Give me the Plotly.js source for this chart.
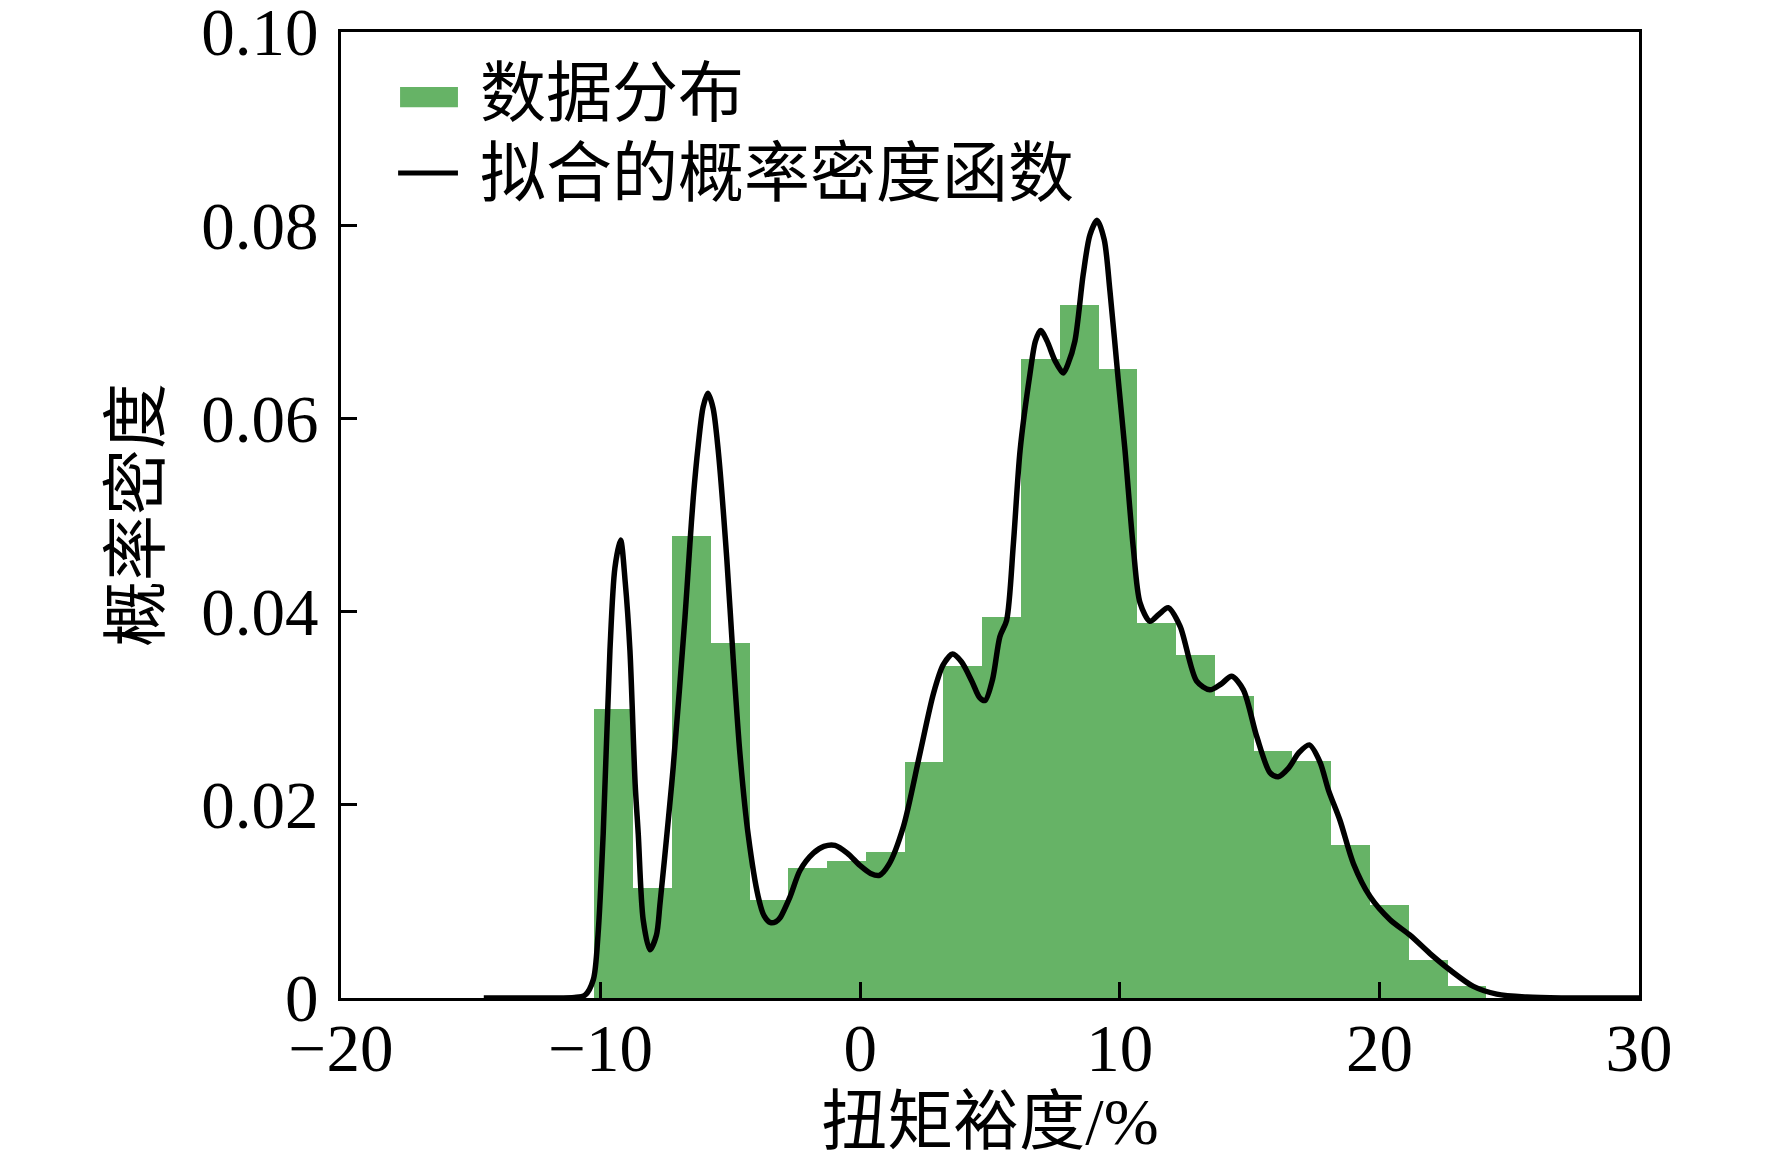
<!DOCTYPE html>
<html>
<head>
<meta charset="utf-8">
<script src="https://cdn.plot.ly/plotly-3.0.1.min.js"></script>
<style>
html,body{margin:0;padding:0;background:#fff;}
#chart{width:1772px;height:1169px;}
</style>
</head>
<body>
<div id="chart"></div>
<script>
// Histogram bin edges (%)
const binEdges = [-10.24, -8.746, -7.252, -5.758, -4.264, -2.77, -1.276, 0.218, 1.712, 3.206,
  4.70, 6.194, 7.688, 9.182, 10.676, 12.17, 13.664, 15.158, 16.652, 18.146, 19.64, 21.134, 22.628, 24.122];
// Histogram densities
const binDensity = [0.0299, 0.0114, 0.0478, 0.0368, 0.0101, 0.0135, 0.0142, 0.0151, 0.0244, 0.0344,
  0.0394, 0.0662, 0.0717, 0.0651, 0.0388, 0.0355, 0.0313, 0.0256, 0.0245, 0.0158, 0.0096, 0.0039, 0.0012];

// Fitted probability density curve
const pdfX = [-14.5, -12, -11, -10.6, -10.28, -10.1, -9.9, -9.64, -9.45, -9.23, -9.05, -8.87, -8.67, -8.55, -8.36,
  -8.1, -7.85, -7.71, -7.39, -7.2, -6.75, -6.56, -6.43, -6.24, -6.05, -5.87, -5.67, -5.47, -5.14, -4.89, -4.63, -4.31,
  -3.93, -3.7, -3.45, -3.25, -3.09, -2.7, -2.32, -1.8, -1.4, -0.97, -0.5, 0.0, 0.4, 0.74, 1.1, 1.66, 2.30, 2.82,
  3.2, 3.56, 3.9, 4.3, 4.6, 4.81, 5.1, 5.38, 5.64, 5.9, 6.16, 6.54, 6.75, 6.95, 7.2, 7.5, 7.82, 8.0, 8.27, 8.59,
  8.85, 9.13, 9.4, 9.62, 9.94, 10.2, 10.52, 10.78, 11.16, 11.5, 11.86, 12.32, 12.96, 13.47, 13.9, 14.31, 14.76,
  15.27, 15.79, 16.1, 16.5, 16.9, 17.3, 17.7, 18.04, 18.48, 19.0, 19.64, 20.41, 21.18, 21.95, 22.72, 23.62,
  24.52, 25.67, 27, 28.5, 30];
const pdfY = [0, 0, 0.00005, 0.0003, 0.0019, 0.0065, 0.017, 0.036, 0.0445, 0.0474, 0.043, 0.036, 0.0222, 0.017, 0.0081,
  0.0050, 0.0065, 0.0098, 0.0185, 0.024, 0.0394, 0.0470, 0.0518, 0.0572, 0.0612, 0.0626, 0.0611, 0.0567, 0.0455, 0.0350, 0.0252, 0.0168,
  0.0105, 0.0085, 0.0078, 0.0079, 0.0083, 0.0105, 0.0132, 0.0150, 0.0157, 0.0158, 0.0150, 0.0137, 0.0129, 0.0127, 0.0138, 0.0177, 0.0253, 0.0315,
  0.0345, 0.0356, 0.0348, 0.0328, 0.0311, 0.0308, 0.0330, 0.0374, 0.0391, 0.047, 0.0567, 0.0646, 0.0680, 0.0691, 0.0680, 0.0660, 0.0647, 0.0656, 0.0680, 0.0749,
  0.0790, 0.0805, 0.0785, 0.0732, 0.0640, 0.0567, 0.0466, 0.0409, 0.0390, 0.0397, 0.0404, 0.0385, 0.0328, 0.0319, 0.0325, 0.0333, 0.0319,
  0.0271, 0.0233, 0.0229, 0.0238, 0.0254, 0.0262, 0.0245, 0.0215, 0.0184, 0.0139, 0.0105, 0.0081, 0.0065, 0.0046, 0.0029, 0.0012,
  0.0004, 0.0001, 0, 0, 0];

const xTicks = [-20, -10, 0, 10, 20, 30];
const yTicks = [0, 0.02, 0.04, 0.06, 0.08, 0.10];
const yTickText = ['0', '0.02', '0.04', '0.06', '0.08', '0.10'];

const seriesNames = ['数据分布', '拟合的概率密度函数'];
const xTitle = '扭矩裕度/%';
const yTitle = '概率密度';

const GREEN = 'rgb(102,179,102)';
const FONT = '"Liberation Serif", "Times New Roman", "Noto Sans CJK SC", serif';

const centers = [], widths = [];
for (let i = 0; i < binDensity.length; i++) {
  centers.push((binEdges[i] + binEdges[i + 1]) / 2);
  widths.push(binEdges[i + 1] - binEdges[i]);
}

const traces = [
  {
    type: 'bar', x: centers, y: binDensity, width: widths, name: seriesNames[0],
    marker: {color: GREEN, line: {width: 0}}, showlegend: false, hoverinfo: 'x+y'
  },
  {
    type: 'scatter', mode: 'lines', x: pdfX, y: pdfY, name: seriesNames[1],
    line: {color: '#000', width: 5.5, shape: 'spline', smoothing: 0.8}, showlegend: false
  }
];

const layout = {
  width: 1772, height: 1169,
  margin: {l: 341, r: 133, t: 32, b: 171, pad: 0},
  paper_bgcolor: '#fff', plot_bgcolor: '#fff',
  font: {family: FONT, color: '#000', size: 64},
  showlegend: false,
  bargap: 0,
  xaxis: {
    range: [-20, 30], tickvals: xTicks, ticks: 'inside', ticklen: 16, tickwidth: 3, tickcolor: '#000',
    showline: true, linewidth: 3, linecolor: '#000', mirror: true, showgrid: false, zeroline: false,
    tickfont: {family: FONT, size: 67, color: '#000'}, ticklabelstandoff: -10, ticklabeloverflow: 'allow',
    title: {text: xTitle, font: {family: FONT, size: 66, color: '#000'}, standoff: 10},
    automargin: false
  },
  yaxis: {
    range: [0, 0.1], tickvals: yTicks, ticktext: yTickText, ticks: 'inside', ticklen: 16, tickwidth: 3, tickcolor: '#000',
    showline: true, linewidth: 3, linecolor: '#000', mirror: true, showgrid: false, zeroline: false,
    tickfont: {family: FONT, size: 67, color: '#000'}, ticklabelstandoff: 6, ticklabeloverflow: 'allow',
    title: {text: yTitle, font: {family: FONT, size: 66, color: '#000'}, standoff: 21},
    automargin: false
  },
  shapes: [
    {type: 'rect', xref: 'paper', yref: 'paper', x0: 0.0455, x1: 0.0901, y0: 0.922, y1: 0.943,
      fillcolor: GREEN, line: {width: 0}},
    {type: 'line', xref: 'paper', yref: 'paper', x0: 0.0440, x1: 0.0901, y0: 0.854, y1: 0.854,
      line: {color: '#000', width: 5}}
  ],
  annotations: [
    {xref: 'paper', yref: 'paper', x: 0.1055, y: 0.936, xanchor: 'left', yanchor: 'middle', showarrow: false,
      text: seriesNames[0], font: {family: FONT, size: 66, color: '#000'}},
    {xref: 'paper', yref: 'paper', x: 0.1055, y: 0.854, xanchor: 'left', yanchor: 'middle', showarrow: false,
      text: seriesNames[1], font: {family: FONT, size: 66, color: '#000'}}
  ]
};

Plotly.newPlot('chart', traces, layout, {displayModeBar: false, staticPlot: true});
</script>
</body>
</html>
